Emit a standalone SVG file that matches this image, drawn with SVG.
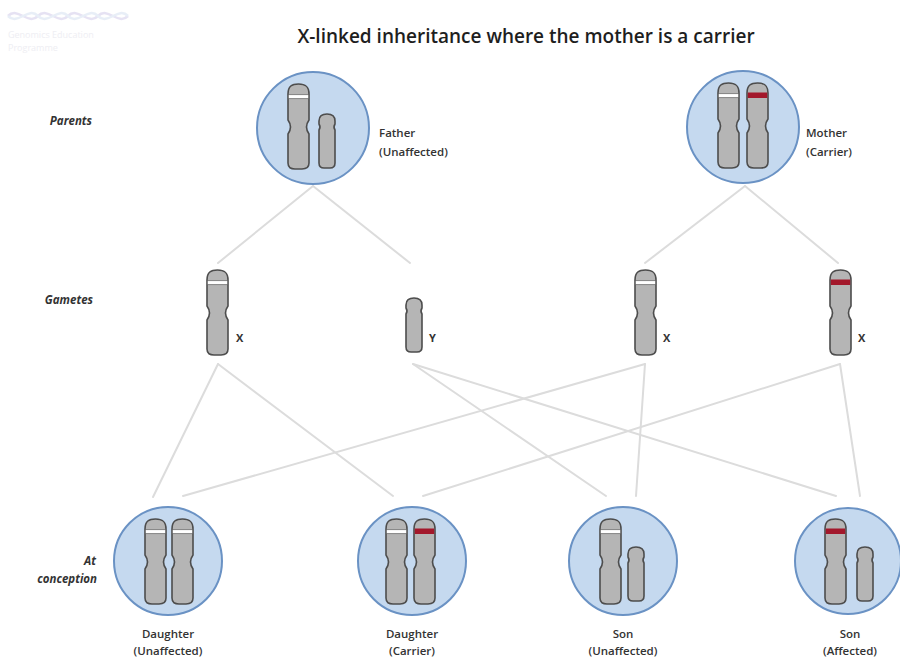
<svg xmlns="http://www.w3.org/2000/svg" xmlns:xlink="http://www.w3.org/1999/xlink" width="900" height="662" viewBox="0 0 900 662">
  <style>
    .title { font-family: "Open Sans", "Liberation Sans", sans-serif; font-size: 19px; font-weight: 600; fill: #1e1e1e; }
    .row { font-family: "Open Sans", "Liberation Sans", sans-serif; font-size: 11.5px; font-weight: 700; font-style: italic; fill: #333; text-anchor: end; }
    .lbl { font-family: "Open Sans", "Liberation Sans", sans-serif; font-size: 11.5px; font-weight: 600; fill: #333; }
    .mid { text-anchor: middle; }
    .chr { font-family: "Open Sans", "Liberation Sans", sans-serif; font-size: 11px; font-weight: 700; fill: #333; }
    .cell { fill: #c5d9ef; stroke: #6a92c4; stroke-width: 2; }
    .link { stroke: #dcdcdc; stroke-width: 2; fill: none; stroke-linecap: round; }
    .logo { font-family: "Open Sans", "Liberation Sans", sans-serif; font-size: 9px; fill: #e4e4ec; }
  </style>
  <defs>
    <!-- X chromosome body, 21 x 85, centromere at 43 -->
    <path id="xbody" d="M0,10 C0,2 4,0 10.5,0 C17,0 21,2 21,10 L21,36 Q16,43 21,50 L21,79 C21,84 18,85 14,85 L7,85 C3,85 0,84 0,79 L0,50 Q5,43 0,36 Z" fill="#b5b5b5" stroke="#4d4d4d" stroke-width="1.6"/>
    <!-- Y chromosome body, 16 x 54 -->
    <path id="ybody" d="M0,7 C0,2 3,0 8,0 C13,0 16,2 16,7 L16,10 Q14,13 16,16 L16,49 C16,53 14,54 11,54 L5,54 C2,54 0,53 0,49 L0,16 Q2,13 0,10 Z" fill="#b5b5b5" stroke="#4d4d4d" stroke-width="1.6"/>
    <g id="xw">
      <use xlink:href="#xbody"/>
      <rect x="0.8" y="11" width="19.4" height="3.2" fill="#ffffff"/>
      <line x1="0.8" y1="10.6" x2="20.2" y2="10.6" stroke="#777" stroke-width="0.8"/>
      <line x1="0.8" y1="14.6" x2="20.2" y2="14.6" stroke="#777" stroke-width="0.8"/>
    </g>
    <g id="xr">
      <use xlink:href="#xbody"/>
      <rect x="0.8" y="9.5" width="19.4" height="5.5" fill="#a3182b"/>
    </g>
  </defs>

  <!-- programme logo, very faint -->
  <g id="logo" opacity="0.6">
    <path d="M8,16 C18,6 28,26 38,16 C48,6 58,26 68,16 C78,6 88,26 98,16 C108,6 118,26 128,16" fill="none" stroke="#d6d0ec" stroke-width="2.5"/>
    <path d="M8,16 C18,26 28,6 38,16 C48,26 58,6 68,16 C78,26 88,6 98,16 C108,26 118,6 128,16" fill="none" stroke="#d9e4f2" stroke-width="2.5"/>
    <text class="logo" x="8" y="38">Genomics Education</text>
    <text class="logo" x="8" y="51">Programme</text>
  </g>

  <text class="title" x="526" y="43" text-anchor="middle">X-linked inheritance where the mother is a carrier</text>

  <!-- row captions -->
  <text class="row" x="92" y="125">Parents</text>
  <text class="row" x="93" y="304">Gametes</text>
  <text class="row" x="96" y="565">At</text>
  <text class="row" x="97" y="583">conception</text>

  <!-- connectors -->
  <g id="connectors">
    <line class="link" x1="313" y1="186" x2="218" y2="263"/>
    <line class="link" x1="313" y1="186" x2="410" y2="263"/>
    <line class="link" x1="745" y1="186" x2="645" y2="263"/>
    <line class="link" x1="745" y1="186" x2="838" y2="263"/>
    <line class="link" x1="218" y1="364" x2="153" y2="497"/>
    <line class="link" x1="218" y1="364" x2="393" y2="496"/>
    <line class="link" x1="413" y1="364" x2="606" y2="496"/>
    <line class="link" x1="413" y1="364" x2="836" y2="496"/>
    <line class="link" x1="645" y1="364" x2="183" y2="496"/>
    <line class="link" x1="645" y1="364" x2="636" y2="496"/>
    <line class="link" x1="840" y1="364" x2="423" y2="496"/>
    <line class="link" x1="840" y1="364" x2="860" y2="496"/>
  </g>

  <!-- parents -->
  <g id="father">
    <circle class="cell" cx="313" cy="128" r="56"/>
    <use xlink:href="#xw" x="288" y="84"/>
    <use xlink:href="#ybody" x="319" y="114"/>
    <text class="lbl" x="379" y="137">Father</text>
    <text class="lbl" x="379" y="156">(Unaffected)</text>
  </g>
  <g id="mother">
    <circle class="cell" cx="743" cy="127" r="56"/>
    <use xlink:href="#xw" x="718" y="83"/>
    <use xlink:href="#xr" x="747" y="83"/>
    <text class="lbl" x="806" y="137">Mother</text>
    <text class="lbl" x="806" y="156">(Carrier)</text>
  </g>

  <!-- gametes -->
  <g id="gamete-father-x">
    <use xlink:href="#xw" x="207" y="270"/>
    <text class="chr" x="236" y="342">X</text>
  </g>
  <g id="gamete-father-y">
    <use xlink:href="#ybody" x="406" y="298"/>
    <text class="chr" x="429" y="342">Y</text>
  </g>
  <g id="gamete-mother-x1">
    <use xlink:href="#xw" x="635" y="270"/>
    <text class="chr" x="663" y="342">X</text>
  </g>
  <g id="gamete-mother-x2">
    <use xlink:href="#xr" x="830" y="270"/>
    <text class="chr" x="858" y="342">X</text>
  </g>

  <!-- offspring -->
  <g id="daughter-unaffected">
    <circle class="cell" cx="168" cy="561" r="54"/>
    <use xlink:href="#xw" x="145" y="519"/>
    <use xlink:href="#xw" x="172" y="519"/>
    <text class="lbl mid" x="168" y="638">Daughter</text>
    <text class="lbl mid" x="168" y="655">(Unaffected)</text>
  </g>
  <g id="daughter-carrier">
    <circle class="cell" cx="412" cy="561" r="54"/>
    <use xlink:href="#xw" x="386" y="519"/>
    <use xlink:href="#xr" x="414" y="519"/>
    <text class="lbl mid" x="412" y="638">Daughter</text>
    <text class="lbl mid" x="412" y="655">(Carrier)</text>
  </g>
  <g id="son-unaffected">
    <circle class="cell" cx="623" cy="561" r="54"/>
    <use xlink:href="#xw" x="600" y="519"/>
    <use xlink:href="#ybody" x="628" y="547"/>
    <text class="lbl mid" x="623" y="638">Son</text>
    <text class="lbl mid" x="623" y="655">(Unaffected)</text>
  </g>
  <g id="son-affected">
    <circle class="cell" cx="848" cy="561" r="53"/>
    <use xlink:href="#xr" x="825" y="519"/>
    <use xlink:href="#ybody" x="857" y="547"/>
    <text class="lbl mid" x="850" y="638">Son</text>
    <text class="lbl mid" x="850" y="655">(Affected)</text>
  </g>
</svg>
